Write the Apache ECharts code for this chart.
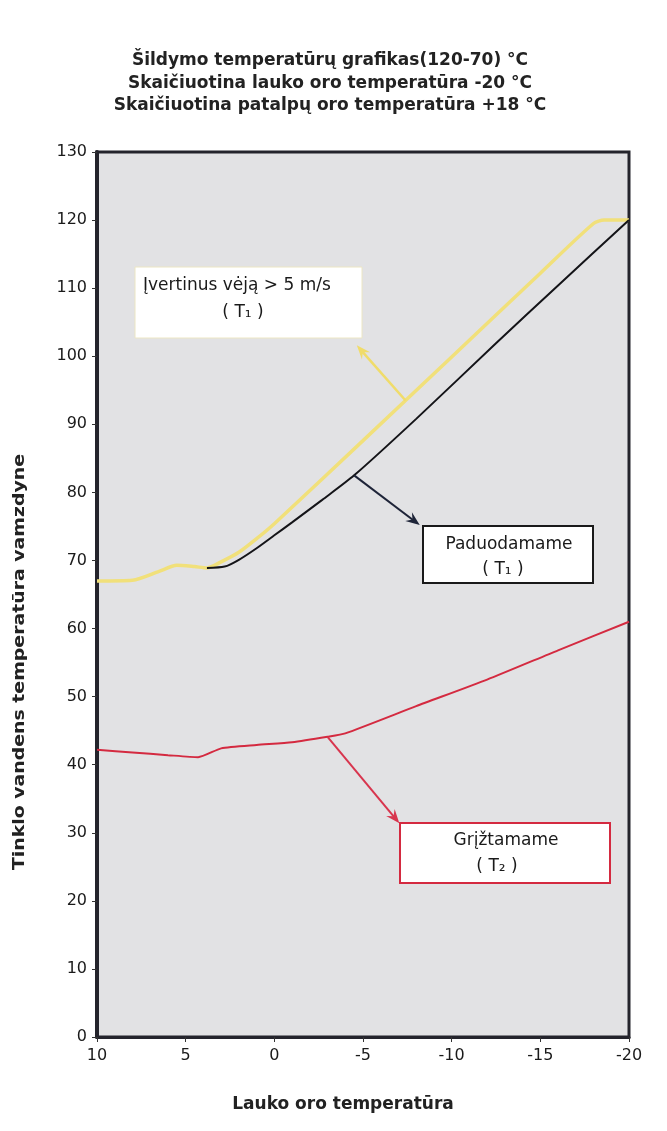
<!DOCTYPE html>
<html><head><meta charset="utf-8">
<script src="https://cdn.jsdelivr.net/npm/echarts@6/dist/echarts.min.js"></script>
<style>html,body{margin:0;padding:0;background:#fff}#c{width:667px;height:1131px}</style>
</head><body><div id="c"></div>
<script>
// ---- data ----
const titleLines = [
  'Šildymo temperatūrų grafikas(120-70) °C',
  'Skaičiuotina lauko oro temperatūra -20 °C',
  'Skaičiuotina patalpų oro temperatūra +18 °C'
];
const xAxisName = 'Lauko oro temperatūra';
const yAxisName = 'Tinklo vandens temperatūra vamzdyne';
// outdoor temperature (°C) -> network water temperature (°C)
const supplyWind = [[10,67],[8,67.1],[6.5,68.4],[5.5,69.3],[4.5,69.1],[3.8,68.9],[3,69.8],[2,71.2],[1,73.2],[0,75.4],[-5,87.6],[-10,99.9],[-15,112.2],[-18,119.5],[-18.6,120],[-20,120]];
const supply = [[3.8,68.9],[2.8,69.1],[2,70.1],[1,71.8],[0,73.7],[-1,75.6],[-2.7,78.9],[-4.5,82.5],[-8,90.8],[-12.5,101.9],[-16,110.4],[-20,120]];
const returnT = [[10,42.2],[8,41.8],[6,41.4],[4.3,41.1],[3,42.4],[1,42.9],[-1,43.3],[-3,44.1],[-4,44.6],[-8,48.6],[-12,52.5],[-16,56.8],[-20,61]];
const legendLabels = [['Įvertinus vėją > 5 m/s','( T₁ )'],['Paduodamame','( T₁ )'],['Grįžtamame','( T₂ )']];
// callout arrows: [from point on line, to arrow tip] in data coords
const calloutArrows = [
  [[-7.4,93.5],[-4.65,101.6]],
  [[-4.5,82.5],[-8.2,75.2]],
  [[-3.0,44.1],[-7.05,31.4]]
];
const colors = ['#f1e07a','#141418','#d42a40'];

const FONT = 'DejaVu Sans, Arial, sans-serif';
const chart = echarts.init(document.getElementById('c'), null, {renderer:'canvas'});
const option = {
  animation:false,
  backgroundColor:'#ffffff',
  grid:{left:97,right:38,top:152,bottom:94,show:true,backgroundColor:'#e2e2e4',borderColor:'#24242c',borderWidth:3},
  xAxis:{type:'value',min:-20,max:10,interval:5,inverse:true,
    axisLine:{show:true,onZero:false,lineStyle:{color:'#24242c',width:3}},
    axisTick:{show:true,length:5,lineStyle:{color:'#333'}},
    axisLabel:{fontFamily:FONT,fontSize:16,color:'#1a1a1a',margin:11},
    splitLine:{show:false}},
  yAxis:{type:'value',min:0,max:130,interval:10,
    axisLine:{show:true,onZero:false,lineStyle:{color:'#24242c',width:4}},
    axisTick:{show:true,length:5,lineStyle:{color:'#333'}},
    axisLabel:{fontFamily:FONT,fontSize:16,color:'#1a1a1a',margin:10},
    splitLine:{show:false}},
  series:[
    {type:'line',data:supplyWind,showSymbol:false,smooth:0.25,lineStyle:{color:colors[0],width:3.5},z:2},
    {type:'line',data:supply,showSymbol:false,smooth:0.25,lineStyle:{color:colors[1],width:2},z:3},
    {type:'line',data:returnT,showSymbol:false,smooth:0.2,lineStyle:{color:colors[2],width:2},z:3}
  ]
};
chart.setOption(option);

function head(p0,p1,len,w){
  const dx=p1[0]-p0[0], dy=p1[1]-p0[1], L=Math.hypot(dx,dy);
  const ux=dx/L, uy=dy/L, px=-uy, py=ux;
  const b=[p1[0]-ux*len,p1[1]-uy*len], n=[p1[0]-ux*len*0.65,p1[1]-uy*len*0.65];
  return [p1,[b[0]+px*w/2,b[1]+py*w/2],n,[b[0]-px*w/2,b[1]-py*w/2]];
}
const g = [];
titleLines.forEach((t,i)=>{
  g.push({type:'text',x:330,y:[61,84,106][i],style:{text:t,font:'bold 17px '+FONT,fill:'#222',textAlign:'center',textVerticalAlign:'middle'},z:10});
});
g.push({type:'text',x:343,y:1105,style:{text:xAxisName,font:'bold 17px '+FONT,fill:'#222',textAlign:'center',textVerticalAlign:'middle'},z:10});
g.push({type:'text',x:20,y:662,rotation:Math.PI/2,scaleX:1.18,style:{text:yAxisName,font:'bold 16px '+FONT,fill:'#222',textAlign:'center',textVerticalAlign:'middle'},z:10});

// legend boxes
const boxes = [
  {x:135,y:267,w:227,h:71,stroke:'#ece6c4',lw:1},
  {x:423,y:526,w:170,h:57,stroke:'#1a1a1a',lw:2},
  {x:400,y:823,w:210,h:60,stroke:'#d42a40',lw:2}
];
boxes.forEach(b=>g.push({type:'rect',shape:{x:b.x,y:b.y,width:b.w,height:b.h},style:{fill:'#fff',stroke:b.stroke,lineWidth:b.lw},z:20}));
const bf = '17px '+FONT;
g.push({type:'text',x:143,y:286,style:{text:legendLabels[0][0],font:bf,fill:'#1a1a1a',textAlign:'left',textVerticalAlign:'middle'},z:21});
g.push({type:'text',x:243,y:313,style:{text:legendLabels[0][1],font:bf,fill:'#1a1a1a',textAlign:'center',textVerticalAlign:'middle'},z:21});
g.push({type:'text',x:509,y:545,style:{text:legendLabels[1][0],font:bf,fill:'#1a1a1a',textAlign:'center',textVerticalAlign:'middle'},z:21});
g.push({type:'text',x:503,y:570,style:{text:legendLabels[1][1],font:bf,fill:'#1a1a1a',textAlign:'center',textVerticalAlign:'middle'},z:21});
g.push({type:'text',x:506,y:841,style:{text:legendLabels[2][0],font:bf,fill:'#1a1a1a',textAlign:'center',textVerticalAlign:'middle'},z:21});
g.push({type:'text',x:497,y:867,style:{text:legendLabels[2][1],font:bf,fill:'#1a1a1a',textAlign:'center',textVerticalAlign:'middle'},z:21});

const arrowColors = ['#f0dc6a','#1e2438','#d8354e'];
calloutArrows.forEach((a,i)=>{
  const p0 = chart.convertToPixel({gridIndex:0}, a[0]);
  const p1 = chart.convertToPixel({gridIndex:0}, a[1]);
  const dx=p1[0]-p0[0], dy=p1[1]-p0[1], L=Math.hypot(dx,dy);
  const e=[p1[0]-dx/L*8,p1[1]-dy/L*8];
  g.push({type:'line',shape:{x1:p0[0],y1:p0[1],x2:e[0],y2:e[1]},style:{stroke:arrowColors[i],lineWidth:i===0?2.5:2},z:25});
  g.push({type:'polygon',shape:{points:head(p0,p1,14,11)},style:{fill:arrowColors[i]},z:26});
});
chart.setOption({graphic:g});
</script></body></html>
